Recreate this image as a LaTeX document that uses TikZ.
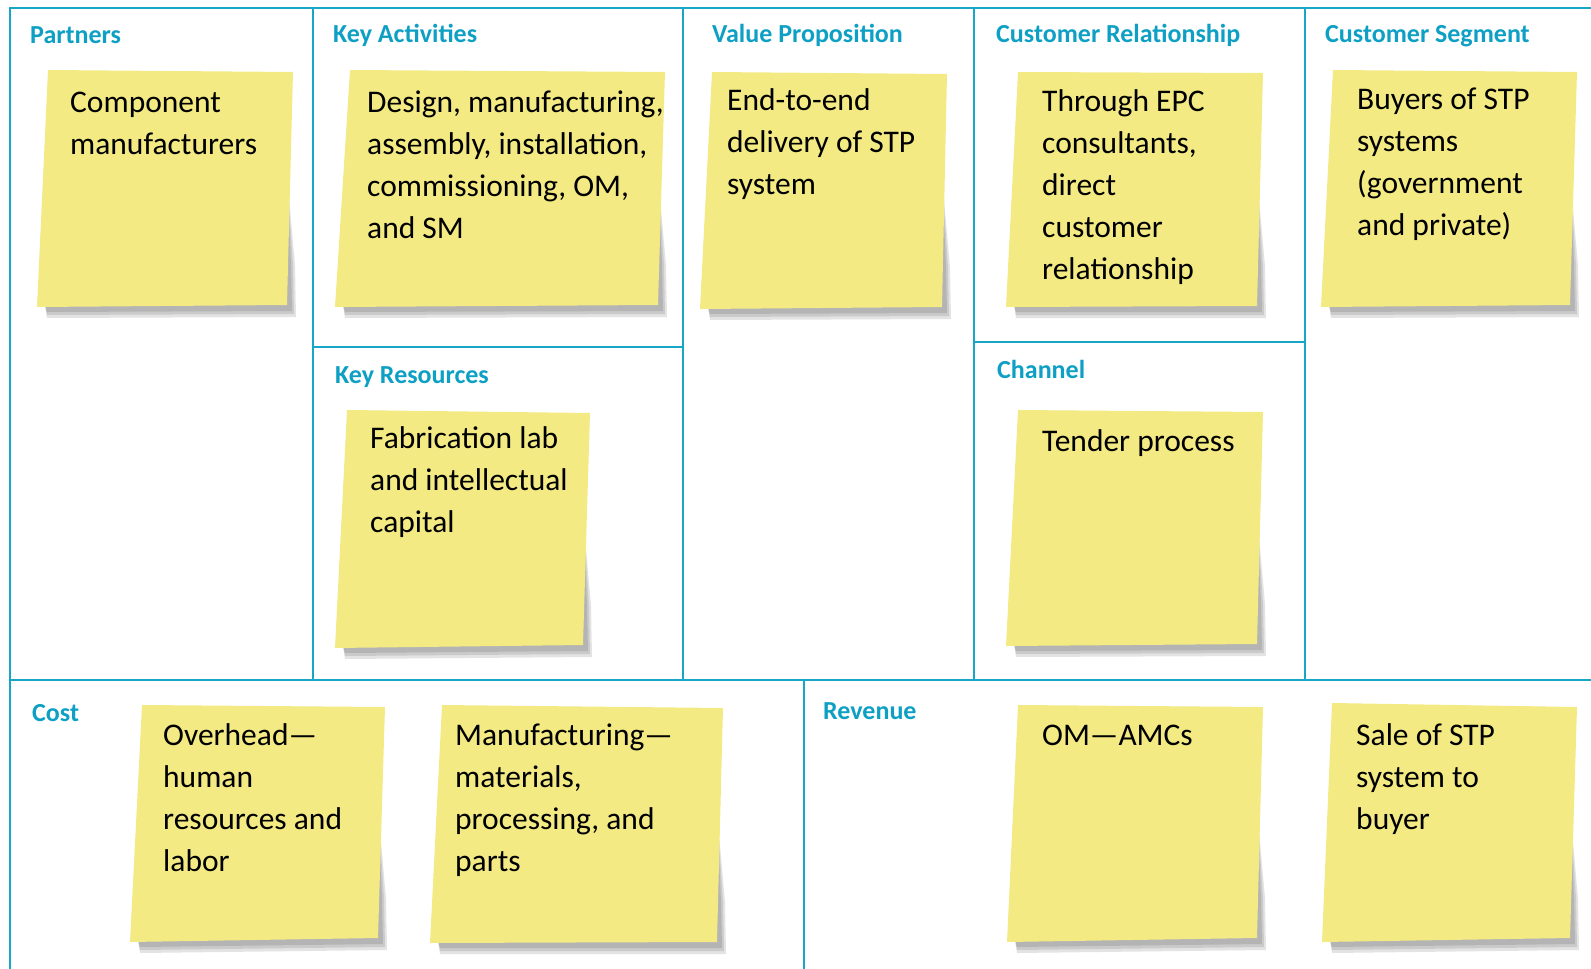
\documentclass[tikz,border=0pt]{standalone}
\usepackage{fontspec}
\setmainfont{Carlito}
\usetikzlibrary{positioning}

\definecolor{canvasline}{RGB}{24,166,200}
\definecolor{canvastitle}{RGB}{14,160,196}
\definecolor{postit}{RGB}{243,234,132}

\begin{document}
\begin{tikzpicture}[x=1pt, y=-1pt,
      frameline/.style={draw=canvasline, line width=2.2pt},
      gridline/.style={draw=canvasline, line width=1.5pt},
      blocktitle/.style={anchor=base west, inner sep=0pt, text=canvastitle, font=\fontsize{26}{30}\selectfont\bfseries},
      notetext/.style={anchor=north west, yshift=29.4pt, inner sep=0pt, text width=310pt, align=flush left,
        font=\fontsize{31.5}{42}\selectfont, execute at begin node={\strut}},
      stickypaper/.style={fill=postit},
      papershadow/.style={fill=black, opacity=0.11}]

      \useasboundingbox (0,0) rectangle (1591,969);

      % Canvas grid
      \draw[frameline] (10,969) -- (10,8) -- (1591,8);
      \draw[gridline] (10,680) -- (1591,680);
      \foreach \x in {313, 683, 974, 1305} {
        \draw[gridline] (\x,8) -- (\x,680);
      }
      \draw[gridline] (313,347) -- (683,347);
      \draw[gridline] (974,342) -- (1305,342);
      \draw[gridline] (804,680) -- (804,969);

      % Sticky notes: top-left / top-right / bottom-right / bottom-left
      \foreach \ax/\ay/\bx/\by/\cx/\cy/\dx/\dy in {
          48/70/293/72/287/305/37/307,
          350/70/665/72/658/305/335/307,
          712/72/947/74/942/307/700/309,
          1018/72/1263/73/1257/306/1006/307,
          1333/70/1577/72/1570/305/1321/307,
          347/410/590/413/583/645/335/648,
          1018/410/1263/412/1257/644/1006/646,
          142/705/385/707/378/938/130/942,
          442/705/723/708/717/942/430/943,
          1018/705/1263/707/1257/938/1007/942,
          1332/703/1577/707/1570/938/1322/942} {
        \foreach \k in {1,2,3} {
          \fill[papershadow] (\dx+8,\dy-2) -- (\cx,\cy-2) -- (\cx,\cy-130)
            -- (\cx+2+2*\k,\cy-40) -- (\cx+3+2*\k,\cy+3+3*\k) -- (\dx+10,\dy+2+3*\k) -- cycle;
        }
        \fill[stickypaper] (\ax,\ay) -- (\bx,\by) -- (\cx,\cy) -- (\dx,\dy) -- cycle;
      }

      % Block titles
      \node[blocktitle] (partners) at (30,43) {Partners};
      \node[blocktitle] (activities) at (333,42) {Key Activities};
      \node[blocktitle] (value) at (712,42) {Value Proposition};
      \node[blocktitle] (relation) at (996,42) {Customer Relationship};
      \node[blocktitle] (segment) at (1325,42) {Customer Segment};
      \node[blocktitle] (resources) at (335,383) {Key Resources};
      \node[blocktitle] (channel) at (997,378) {Channel};
      \node[blocktitle] (cost) at (32,721) {Cost};
      \node[blocktitle] (revenue) at (823,719) {Revenue};

      % Note texts
      \node[notetext] (partnersnote) at (70,112) {Component\\manufacturers};
      \node[notetext] (activitiesnote) at (367,112) {Design, manufacturing,\\assembly, installation,\\commissioning, OM,\\and SM};
      \node[notetext] (valuenote) at (727,110) {End-to-end\\delivery of STP\\system};
      \node[notetext] (relationnote) at (1042,111) {Through EPC\\consultants,\\direct\\customer\\relationship};
      \node[notetext] (segmentnote) at (1357,109) {Buyers of STP\\systems\\(government\\and private)};
      \node[notetext] (resourcesnote) at (370,448) {Fabrication lab\\and intellectual\\capital};
      \node[notetext] (channelnote) at (1042,451) {Tender process};
      \node[notetext] (overheadnote) at (163,745) {Overhead—\\human\\resources and\\labor};
      \node[notetext] (manufacturenote) at (455,745) {Manufacturing—\\materials,\\processing, and\\parts};
      \node[notetext] (omnote) at (1042,745) {OM—AMCs};
      \node[notetext] (salenote) at (1356,745) {Sale of STP\\system to\\buyer};
    \end{tikzpicture}
\end{document}
